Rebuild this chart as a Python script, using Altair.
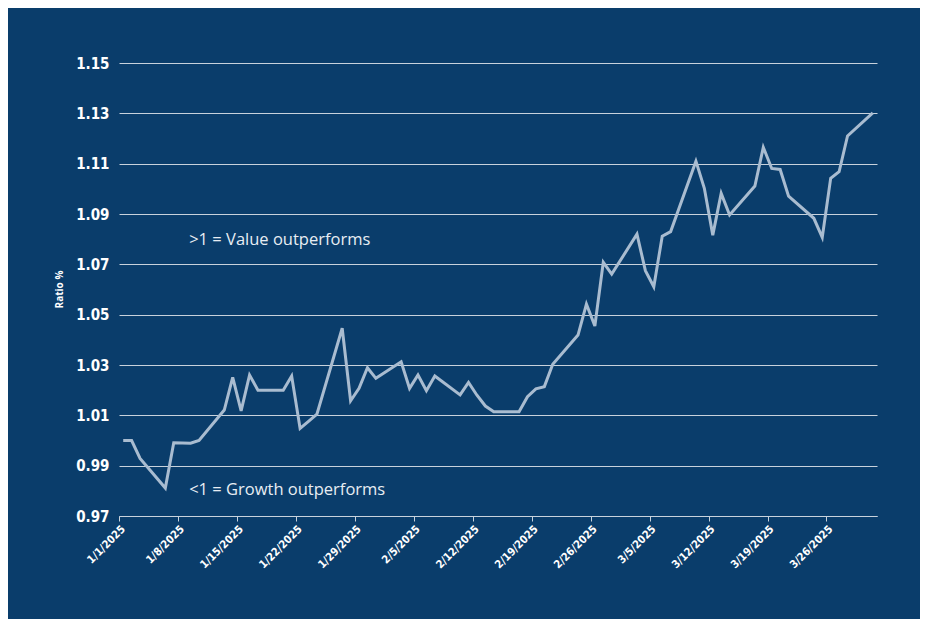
import altair as alt
import pandas as pd

# ---- data ----
dates = [
    "2025-01-01", "2025-01-02", "2025-01-03", "2025-01-06", "2025-01-07", "2025-01-08",
    "2025-01-09", "2025-01-10", "2025-01-13", "2025-01-14", "2025-01-15", "2025-01-16",
    "2025-01-17", "2025-01-20", "2025-01-21", "2025-01-22", "2025-01-23", "2025-01-24",
    "2025-01-27", "2025-01-28", "2025-01-29", "2025-01-30", "2025-01-31", "2025-02-03",
    "2025-02-04", "2025-02-05", "2025-02-06", "2025-02-07", "2025-02-10", "2025-02-11",
    "2025-02-12", "2025-02-13", "2025-02-14", "2025-02-17", "2025-02-18", "2025-02-19",
    "2025-02-20", "2025-02-21", "2025-02-24", "2025-02-25", "2025-02-26", "2025-02-27",
    "2025-02-28", "2025-03-03", "2025-03-04", "2025-03-05", "2025-03-06", "2025-03-07",
    "2025-03-10", "2025-03-11", "2025-03-12", "2025-03-13", "2025-03-14", "2025-03-17",
    "2025-03-18", "2025-03-19", "2025-03-20", "2025-03-21", "2025-03-24", "2025-03-25",
    "2025-03-26", "2025-03-27", "2025-03-28", "2025-03-31",
]
ratio = [
    1.000, 1.000, 0.9929, 0.9811, 0.9991, 0.9990,
    0.9989, 1.000, 1.0121, 1.0251, 1.0118, 1.0260,
    1.0200, 1.0200, 1.0256, 1.0048, 1.0076, 1.0105,
    1.0446, 1.0158, 1.0207, 1.0289, 1.0247, 1.0313,
    1.0207, 1.0260, 1.0198, 1.0256, 1.0181, 1.0231,
    1.0180, 1.0137, 1.0114, 1.0114, 1.0174, 1.0205,
    1.0214, 1.0303, 1.0419, 1.0542, 1.0455, 1.0708,
    1.0661, 1.0820, 1.0675, 1.0611, 1.0812, 1.0830,
    1.1110, 1.1002, 1.0816, 1.0982, 1.0896, 1.1011,
    1.1165, 1.1081, 1.1077, 1.0971, 1.0883, 1.0807,
    1.1042, 1.1068, 1.1210, 1.1302,
]
tick_dates = [(1, 1), (1, 8), (1, 15), (1, 22), (1, 29), (2, 5), (2, 12),
              (2, 19), (2, 26), (3, 5), (3, 12), (3, 19), (3, 26)]
y_ticks = [0.97, 0.99, 1.01, 1.03, 1.05, 1.07, 1.09, 1.11, 1.13, 1.15]
note_labels = [">1 = Value outperforms", "<1 = Growth outperforms"]
note_dates = ["2025-01-09T08:00:00", "2025-01-09T08:00:00"]
note_values = [1.0797, 0.9803]

# ---- styling ----
NAVY = "#0A3D6B"
GRID = "#C8D2DC"
LINE = "#A9BCD0"
COND = "DejaVu Sans Condensed, Roboto, sans-serif"

df = pd.DataFrame({"date": [d + "T12:00:00" for d in dates], "ratio": ratio})
notes = pd.DataFrame({"date": note_dates, "ratio": note_values, "label": note_labels})

x_scale = alt.Scale(domain=[alt.DateTime(year=2025, month=1, date=1),
                            alt.DateTime(year=2025, month=4, date=1)])
y_scale = alt.Scale(domain=[0.97, 1.15], nice=False, zero=False)

x_axis = alt.Axis(
    values=[alt.DateTime(year=2025, month=m, date=d) for m, d in tick_dates],
    format="%-m/%-d/%Y", labelAngle=-45, labelColor="white",
    labelFont=COND, labelFontSize=11, labelFontWeight="bold",
    labelPadding=2, grid=False, domainColor=GRID, domainWidth=1.2,
    tickColor=GRID, tickSize=5, title=None, labelOverlap=False,
)
y_axis = alt.Axis(
    values=y_ticks, format=".2f", grid=True, gridColor=GRID, gridWidth=1,
    domain=False, ticks=False, labelColor="white",
    labelFont=COND, labelFontSize=15, labelFontWeight="bold",
    labelPadding=10, title="Ratio %", titleColor="white", titleFont="Open Sans",
    titleFontSize=10, titleFontWeight="bold", titleX=-60, titleY=226,
    titleAngle=270, titleAlign="center", titleBaseline="middle",
)

line = alt.Chart(df).mark_line(color=LINE, strokeWidth=3).encode(
    x=alt.X("date:T", scale=x_scale, axis=x_axis),
    y=alt.Y("ratio:Q", scale=y_scale, axis=y_axis),
)
text = alt.Chart(notes).mark_text(
    align="left", baseline="middle", font="Open Sans", fontSize=16.5, color="#E8EDF3"
).encode(x="date:T", y="ratio:Q", text="label:N")

chart = alt.layer(line, text).properties(
    width=758, height=453,
    autosize=alt.AutoSizeParams(type="none"),
    padding={"left": 111, "top": 55, "right": 43, "bottom": 106},
    background=NAVY,
).configure_view(stroke=None)

chart.save("out.html", embed_options={"renderer": "svg", "actions": False})
